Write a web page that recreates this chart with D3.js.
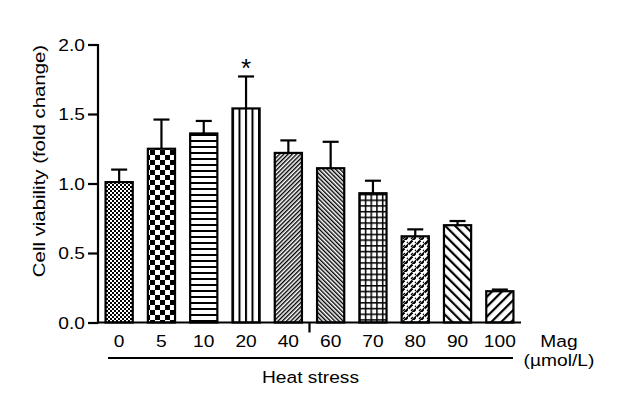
<!DOCTYPE html>
<html><head><meta charset="utf-8">
<script src="https://cdn.jsdelivr.net/npm/d3@7"></script>
<style>body{margin:0;background:#fff}svg{display:block}text{font-family:"Liberation Sans",Arial,sans-serif;fill:#000}</style>
</head><body><svg id="c" width="626" height="412"></svg>
<script>
const categories = ["0","5","10","20","40","60","70","80","90","100"];
const means = [1.01, 1.25, 1.36, 1.54, 1.22, 1.11, 0.93, 0.62, 0.70, 0.225];
const errors = [0.09, 0.21, 0.09, 0.23, 0.09, 0.19, 0.09, 0.05, 0.03, 0.012];
const patterns = ["fineCheck","coarseCheck","hlines","vlines","diagR","diagL","grid","weave","wideL","wideR"];
const yTicks = [0, 0.5, 1.0, 1.5, 2.0];
const significant = ["20"];

const svg = d3.select("#c");
const x = d3.scaleBand().domain(categories).range([98, 521]).paddingInner(0.31).paddingOuter(0.155);
const y = d3.scaleLinear().domain([0, 2]).range([322.5, 44.5]);
const SX = 1.13;
const FS = 17;

// patterns
const defs = svg.append("defs");
function pat(id, w, h, rot){
  const p = defs.append("pattern").attr("id", id).attr("patternUnits","userSpaceOnUse")
    .attr("width", w).attr("height", h);
  if (rot) p.attr("patternTransform", `rotate(${rot})`);
  p.append("rect").attr("width", w).attr("height", h).attr("fill", "#fff");
  return p;
}
let p;
p = pat("fineCheck", 4, 4);
p.append("rect").attr("width",2).attr("height",2).attr("fill","#000");
p.append("rect").attr("x",2).attr("y",2).attr("width",2).attr("height",2).attr("fill","#000");
p = pat("coarseCheck", 10, 10);
p.append("rect").attr("width",5).attr("height",5).attr("fill","#000");
p.append("rect").attr("x",5).attr("y",5).attr("width",5).attr("height",5).attr("fill","#000");
p = pat("hlines", 6, 6);
p.append("rect").attr("y",2).attr("width",6).attr("height",2).attr("fill","#000");
p = pat("vlines", 6.5, 6);
p.attr("x", 232);
p.append("rect").attr("x",0).attr("width",2).attr("height",6).attr("fill","#000");
p = pat("diagR", 3, 3, 45);
p.append("rect").attr("width",1.4).attr("height",3).attr("fill","#000");
p = pat("diagL", 3, 3, -45);
p.append("rect").attr("width",1.4).attr("height",3).attr("fill","#000");
p = pat("grid", 5.7, 5.7);
p.append("rect").attr("width",1.5).attr("height",5.7).attr("fill","#000");
p.append("rect").attr("width",5.7).attr("height",1.5).attr("fill","#000");
p = pat("weave", 8, 8);
p.append("path").attr("d","M0.5,4.5 L4.5,0.5 M4.5,8.5 L8.5,4.5 M-0.5,9.5 L0.5,8.5")
  .attr("stroke","#000").attr("stroke-width",2.2).attr("fill","none");
p.append("path").attr("d","M3,7 L5,5 M7,3 L9,1")
  .attr("stroke","#000").attr("stroke-width",1.2).attr("fill","none");
p = pat("wideL", 7, 7, -45);
p.append("rect").attr("width",2.2).attr("height",7).attr("fill","#000");
p = pat("wideR", 7, 7, 45);
p.append("rect").attr("width",2.2).attr("height",7).attr("fill","#000");

function stext(xp, yp, str, anchor, size){
  return svg.append("text")
    .attr("transform", `translate(${xp},${yp}) scale(${SX},1)`)
    .attr("text-anchor", anchor).attr("font-size", size).text(str);
}

// bars
const data = categories.map((c,i)=>({c, m:means[i], e:errors[i], p:patterns[i]}));
svg.selectAll("rect.bar").data(data).join("rect").attr("class","bar")
  .attr("x", d=>x(d.c)+1).attr("width", x.bandwidth()-2)
  .attr("y", d=>y(d.m)).attr("height", d=>y(0)-y(d.m))
  .attr("fill", d=>`url(#${d.p})`).attr("stroke","#000").attr("stroke-width",2.2);

// error bars
const eb = svg.selectAll("g.err").data(data).join("g").attr("class","err");
eb.append("line").attr("x1", d=>x(d.c)+x.bandwidth()/2).attr("x2", d=>x(d.c)+x.bandwidth()/2)
  .attr("y1", d=>y(d.m)).attr("y2", d=>y(d.m+d.e)).attr("stroke","#000").attr("stroke-width",2.2);
eb.append("line").attr("x1", d=>x(d.c)+x.bandwidth()/2-8).attr("x2", d=>x(d.c)+x.bandwidth()/2+8)
  .attr("y1", d=>y(d.m+d.e)).attr("y2", d=>y(d.m+d.e)).attr("stroke","#000").attr("stroke-width",2.2);

// asterisk
data.filter(d=>significant.includes(d.c)).forEach(d=>{
  svg.append("text").attr("x", x(d.c)+x.bandwidth()/2).attr("y", y(d.m+d.e)+1)
    .attr("text-anchor","middle").attr("font-size",26).text("*");
});

// y axis
const yAxis = d3.axisLeft(y).tickValues(yTicks).tickSize(10).tickSizeOuter(0).tickFormat(d3.format(".1f"));
const gy = svg.append("g").attr("transform","translate(98,0)").call(yAxis);
gy.select(".domain").attr("stroke","#000").attr("stroke-width",2.2).attr("d", `M0,${y(2)-0.5}V${y(0)+1}`);
gy.selectAll(".tick line").attr("stroke","#000").attr("stroke-width",2.2);
gy.selectAll(".tick text").remove();
yTicks.forEach(v=>{ stext(85, y(v)+6, d3.format(".1f")(v), "end", FS); });

// x axis line
svg.append("line").attr("x1",97).attr("x2",x.range()[1]).attr("y1",y(0)).attr("y2",y(0))
  .attr("stroke","#000").attr("stroke-width",2.2);
// separating tick between 40 and 60
const mid = (x("40")+x("60")+x.bandwidth())/2;
svg.append("line").attr("x1",mid).attr("x2",mid).attr("y1",y(0)).attr("y2",y(0)+10)
  .attr("stroke","#000").attr("stroke-width",2.2);
// category labels
categories.forEach(c=>{ stext(x(c)+x.bandwidth()/2, 347, c, "middle", FS); });

// heat stress bracket
svg.append("line").attr("x1",108).attr("x2",513).attr("y1",358).attr("y2",358)
  .attr("stroke","#000").attr("stroke-width",2.2);
stext(310.5, 383, "Heat stress", "middle", FS);
stext(559, 347, "Mag", "middle", FS);
stext(559, 366, "(\u00b5mol/L)", "middle", FS);

// y label
svg.append("text").attr("transform","translate(45,161) rotate(-90) scale(1.2,1)")
  .attr("text-anchor","middle").attr("font-size",17).text("Cell viability (fold change)");
</script></body></html>
